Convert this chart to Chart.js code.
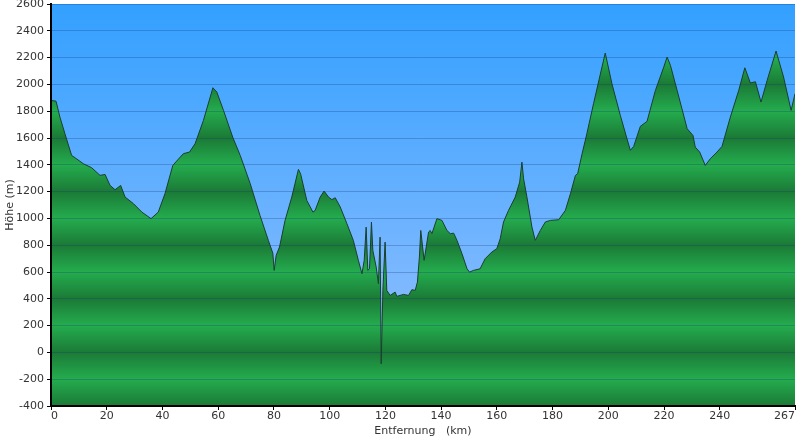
<!DOCTYPE html>
<html>
<head>
<meta charset="utf-8">
<script src="https://cdn.jsdelivr.net/npm/chart.js@4"></script>
<style>
  html, body { margin: 0; padding: 0; background: #fff; }
  #wrap { width: 800px; height: 440px; }
</style>
</head>
<body>
<div id="wrap"><canvas id="profile"></canvas></div>
<script>
// distance along the route (km) and elevation (m)
const distKm = [0, 1.8, 3.2, 5.0, 7.4, 8.6, 11.6, 14.6, 17.6, 19.4, 21.2, 23.0, 25.0, 26.6, 29.6, 32.6, 35.9,
  38.5, 40.9, 43.7, 45.1, 47.5, 49.7, 51.7, 54.7, 58.1, 59.5, 61.9, 65.2, 67.9, 71.5, 75.0, 78.0, 79.6, 80.1,
  80.8, 82.0, 84.0, 86.4, 88.8, 89.6, 91.8, 94.0, 94.8, 96.6, 98.0, 99.6, 100.8, 102.0, 103.8, 106.2, 108.5,
  110.3, 111.6, 112.4, 113.1, 113.7, 114.3, 115.0, 115.5, 116.7, 117.5, 118.1, 118.5, 119.1, 119.9, 120.5,
  121.7, 123.5, 124.1, 126.5, 128.3, 129.5, 130.7, 131.5, 132.2, 132.7, 133.9, 135.5, 136.1, 136.7, 138.5,
  140.3, 142.1, 143.3, 144.5, 145.7, 147.5, 149.3, 150.2, 151.6, 154.0, 155.8, 158.2, 160.0, 161.2, 162.4,
  164.2, 165.1, 166.6, 168.2, 169.0, 169.6, 170.8, 172.6, 173.8, 175.6, 177.4, 179.2, 182.2, 184.6, 186.4,
  188.2, 189.0, 190.6, 192.3, 194.7, 196.9, 198.9, 201.3, 204.3, 207.9, 209.1, 211.5, 213.9, 216.9, 219.9,
  221.1, 222.3, 224.7, 228.3, 230.4, 231.2, 232.8, 234.8, 236.6, 239.0, 240.8, 243.8, 246.8, 249.0, 251.0,
  252.8, 254.8, 257.0, 260.2, 262.9, 265.6, 267];
const elevM = [1880, 1875, 1756, 1632, 1470, 1453, 1408, 1378, 1321, 1328, 1246, 1214, 1246, 1159, 1110, 1047, 998,
  1047, 1184, 1395, 1428, 1483, 1495, 1557, 1731, 1975, 1943, 1806, 1607, 1470, 1259, 1022, 836, 741, 612,
  724, 786, 985, 1159, 1366, 1330, 1134, 1047, 1060, 1159, 1204, 1159, 1140, 1154, 1085, 960, 836,
  687, 587, 687, 935, 612, 624, 973, 761, 637, 513, 860, -85, 463, 823, 463,
  425, 450, 418, 433, 425, 468, 463, 525, 711, 910, 687, 898, 910, 886, 998,
  985, 910, 886, 890, 836, 736, 624, 599, 612, 624, 699, 749, 774, 848, 973,
  1060, 1097, 1159, 1271, 1420, 1296, 1159, 935, 836, 910, 973, 985, 990, 1060, 1184,
  1321, 1333, 1483, 1632, 1856, 2055, 2234, 2005, 1769, 1508, 1537, 1687, 1724, 1955, 2129,
  2204, 2142, 1955, 1669, 1619, 1532, 1495, 1395, 1445, 1495, 1537, 1756, 1955, 2124, 2010,
  2020, 1868, 2030, 2249, 2055, 1806, 1930];

const xTicks = [0, 20, 40, 60, 80, 100, 120, 140, 160, 180, 200, 220, 240, 267];
const yMin = -400, yMax = 2600, yStep = 200;

const points = distKm.map((d, i) => ({ x: d, y: elevM[i] }));

// blue sky behind the plot
const skyPlugin = {
    id: 'sky',
    beforeDraw(chart) {
        const { ctx, chartArea } = chart;
        if (!chartArea) return;
        const g = ctx.createLinearGradient(0, chartArea.top, 0, chartArea.bottom);
        g.addColorStop(0, '#33a0ff');
        g.addColorStop(0.7, '#7db8ff');
        g.addColorStop(1, '#8cc0ff');
        ctx.save();
        ctx.fillStyle = g;
        ctx.fillRect(chartArea.left, chartArea.top, chartArea.width, chartArea.height);
        ctx.restore();
    }
};

// green fill with dark bands on every 400 m and light bands in between
function bandFill(context) {
    const chart = context.chart;
    const { ctx, chartArea, scales } = chart;
    if (!chartArea) return 'rgb(34,150,68)';
    const h = chartArea.bottom - chartArea.top;
    const g = ctx.createLinearGradient(0, chartArea.top, 0, chartArea.bottom);
    for (let v = yMax; v >= yMin; v -= yStep) {
        let pos = (scales.y.getPixelForValue(v) - chartArea.top) / h;
        pos = Math.min(1, Math.max(0, pos));
        g.addColorStop(pos, (v % 400 === 0) ? 'rgb(27,122,54)' : 'rgb(36,172,78)');
    }
    return g;
}

const tickFont = { family: 'DejaVu Sans', size: 11 };

new Chart(document.getElementById('profile'), {
    type: 'line',
    data: {
        datasets: [{
            label: 'Höhe',
            data: points,
            borderColor: '#1a3f2c',
            borderWidth: 1,
            backgroundColor: bandFill,
            fill: 'start',
            pointRadius: 0,
            tension: 0
        }]
    },
    options: {
        responsive: true,
        maintainAspectRatio: false,
        animation: false,
        layout: { padding: { top: 4, right: 5, left: 0, bottom: 0 } },
        plugins: { legend: { display: false }, tooltip: { enabled: false } },
        scales: {
            x: {
                type: 'linear',
                min: 0,
                max: 267,
                afterBuildTicks: (scale) => { scale.ticks = xTicks.map(v => ({ value: v })); },
                afterFit: (scale) => { scale.height = 34; },
                ticks: { font: tickFont, color: '#333', padding: 0, maxRotation: 0, align: 'inner', autoSkip: false },
                grid: { drawOnChartArea: false, tickLength: 4, tickColor: '#000' },
                border: { color: '#000', width: 2, z: 2 },
                title: { display: true, text: 'Entfernung   (km)', font: tickFont, color: '#333', padding: { top: 0, bottom: 2 } }
            },
            y: {
                min: yMin,
                max: yMax,
                afterFit: (scale) => { scale.width = 51; scale.paddingTop = 0; scale.paddingBottom = 0; },
                ticks: { stepSize: yStep, font: tickFont, color: '#333', padding: 3, callback: (v) => String(v) },
                grid: { color: 'rgba(20,50,120,0.28)', tickLength: 4, tickColor: '#000', z: 1 },
                border: { color: '#000', width: 2, z: 2 },
                title: { display: true, text: 'Höhe (m)', font: tickFont, color: '#333', padding: { top: 4, bottom: 0 } }
            }
        }
    },
    plugins: [skyPlugin]
});
</script>
</body>
</html>
